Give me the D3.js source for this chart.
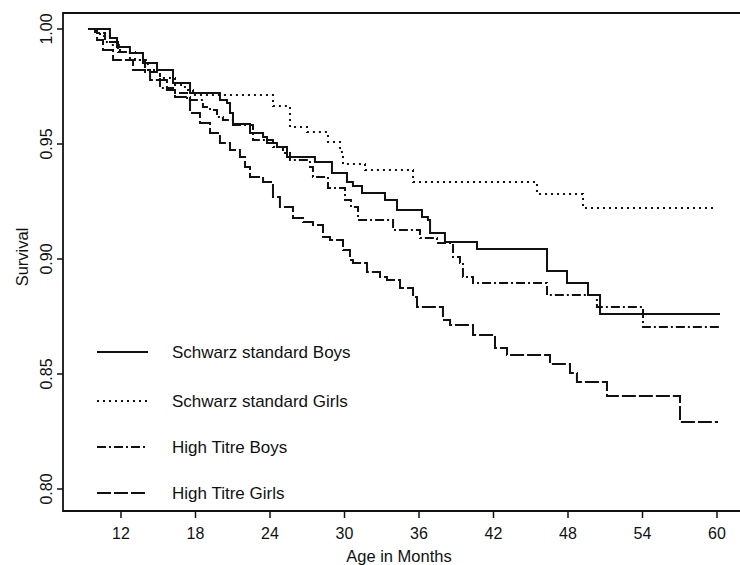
<!DOCTYPE html>
<html>
<head>
<meta charset="utf-8">
<script src="https://cdn.jsdelivr.net/npm/d3@7"></script>
<style>
  body { margin: 0; background: #fff; }
  svg text { font-family: "Liberation Sans", Arial, Helvetica, sans-serif; fill: #111; }
</style>
</head>
<body>
<svg id="chart" width="740" height="565"></svg>
<script>
// step points: [month, survival after the drop]
var ssBoys = [[9.5,1],[11.11,0.9961],[11.68,0.9922],[12.72,0.9896],[13.77,0.9852],[14.9,0.9822],[16.19,0.9765],
  [17.56,0.9722],[19.97,0.9691],[20.54,0.9678],[20.78,0.9635],[21.02,0.9587],[22.39,0.9548],[23.44,0.953],
  [23.76,0.9504],[24.56,0.9487],[25.37,0.9443],[27.62,0.9422],[28.99,0.9374],[30.2,0.9335],[30.68,0.9317],
  [31.41,0.9287],[33.26,0.9257],[34.23,0.9213],[36.24,0.9183],[36.72,0.917],[36.89,0.9113],[38.09,0.9074],
  [40.67,0.9043],[46.31,0.8948],[47.92,0.8896],[49.61,0.8843],[50.58,0.8761],[60.24,0.8761]];

var ssGirls = [[9.66,1],[10.31,0.997],[11.11,0.993],[11.92,0.99],[13.13,0.9865],[14.17,0.9822],[15.14,0.9787],
  [16.35,0.9757],[17.15,0.9735],[17.8,0.9713],[24.24,0.9665],[25.61,0.9574],[26.98,0.9552],[28.67,0.9509],
  [29.64,0.9465],[29.88,0.9413],[31.65,0.9387],[35.52,0.9335],[45.5,0.9283],[49.21,0.9222],[60.0,0.9222]];

var htBoys = [[9.5,1],[9.91,0.9983],[10.71,0.9943],[11.76,0.99],[12.72,0.9865],[13.93,0.9813],[15.14,0.9743],
  [16.19,0.9722],[17.32,0.9691],[18.6,0.9661],[19.17,0.9648],[19.73,0.9617],[20.21,0.9604],[21.02,0.9583],
  [22.63,0.9517],[24.24,0.9487],[25.05,0.9461],[25.61,0.943],[27.22,0.94],[27.46,0.9357],[28.67,0.9309],
  [30.04,0.9257],[30.52,0.9226],[31.09,0.917],[33.91,0.9126],[36.08,0.9091],[37.45,0.907],[38.74,0.9009],
  [39.3,0.8983],[39.54,0.8922],[40.35,0.8896],[46.31,0.8843],[50.33,0.8791],[54.04,0.8704],[60.24,0.8704]];

var htGirls = [[9.34,1],[10.07,0.9952],[10.55,0.9909],[11.36,0.9865],[12.97,0.9822],[14.34,0.9778],[15.7,0.9735],
  [16.35,0.9704],[17.56,0.9635],[18.36,0.9591],[19.17,0.9548],[19.97,0.9504],[20.78,0.9474],[21.58,0.9443],
  [21.99,0.94],[22.39,0.9357],[23.44,0.9335],[24.24,0.927],[24.8,0.9226],[25.85,0.9178],[26.66,0.9161],
  [27.46,0.9148],[28.27,0.9096],[28.83,0.9083],[29.88,0.9039],[30.44,0.8996],[30.68,0.8983],[31.81,0.8943],
  [32.86,0.8922],[33.42,0.8909],[34.47,0.8874],[35.52,0.8835],[35.84,0.8791],[37.93,0.8735],[38.5,0.8713],
  [40.35,0.867],[42.12,0.8613],[43.09,0.8583],[46.55,0.8543],[48.16,0.8504],[48.72,0.8465],[51.14,0.8404],
  [57.02,0.8291],[60.08,0.8291]];

var seriesNames = ["Schwarz standard Boys", "Schwarz standard Girls", "High Titre Boys", "High Titre Girls"];
var seriesData = [ssBoys, ssGirls, htBoys, htGirls];
var seriesDash = [null, "2,4", "9,3,2,3", "14,3"];

var xTicks = [12, 18, 24, 30, 36, 42, 48, 54, 60];
var yTicks = [0.80, 0.85, 0.90, 0.95, 1.00];

var svg = d3.select("#chart");
var frame = {left: 63, top: 13, right: 740, bottom: 511};

var x = d3.scaleLinear().domain([12, 60]).range([121, 717]);
var y = d3.scaleLinear().domain([0.80, 1.00]).range([489, 29]);

// frame: left axis, bottom axis, top border
svg.append("path")
  .attr("d", "M" + frame.right + "," + frame.top + "H" + frame.left + "V" + frame.bottom + "H" + frame.right)
  .attr("fill", "none").attr("stroke", "#111").attr("stroke-width", 1.8);

// x ticks
var xAxis = svg.append("g");
xAxis.selectAll("line").data(xTicks).enter().append("line")
  .attr("x1", d => x(d)).attr("x2", d => x(d))
  .attr("y1", frame.bottom).attr("y2", frame.bottom + 7)
  .attr("stroke", "#111").attr("stroke-width", 1.5);
xAxis.selectAll("text").data(xTicks).enter().append("text")
  .attr("x", d => x(d)).attr("y", frame.bottom + 28)
  .attr("text-anchor", "middle").attr("font-size", 16)
  .text(d => d);

// y ticks
var yAxis = svg.append("g");
yAxis.selectAll("line").data(yTicks).enter().append("line")
  .attr("x1", frame.left - 6).attr("x2", frame.left)
  .attr("y1", d => y(d)).attr("y2", d => y(d))
  .attr("stroke", "#111").attr("stroke-width", 1.5);
yAxis.selectAll("text").data(yTicks).enter().append("text")
  .attr("transform", d => "translate(" + (frame.left - 11) + "," + y(d) + ") rotate(-90)")
  .attr("text-anchor", "middle").attr("font-size", 16)
  .text(d => d3.format(".2f")(d));

// axis titles
svg.append("text")
  .attr("transform", "translate(28,257) rotate(-90)")
  .attr("text-anchor", "middle").attr("font-size", 16.5)
  .text("Survival");
svg.append("text")
  .attr("x", 399).attr("y", 562)
  .attr("text-anchor", "middle").attr("font-size", 16.5)
  .text("Age in Months");

// survival curves
var line = d3.line()
  .x(d => x(d[0]))
  .y(d => y(d[1]))
  .curve(d3.curveStepAfter);

svg.append("g").selectAll("path")
  .data(seriesData).enter().append("path")
  .attr("d", line)
  .attr("fill", "none")
  .attr("stroke", "#111")
  .attr("stroke-width", 2)
  .attr("stroke-dasharray", (d, i) => seriesDash[i]);

// legend
var legendY = [352, 401, 447, 493];
var legend = svg.append("g").selectAll("g")
  .data(seriesNames).enter().append("g")
  .attr("transform", (d, i) => "translate(97," + legendY[i] + ")");
legend.append("line")
  .attr("x1", 0).attr("x2", 51).attr("y1", 0).attr("y2", 0)
  .attr("stroke", "#111").attr("stroke-width", 2)
  .attr("stroke-dasharray", (d, i) => seriesDash[i]);
legend.append("text")
  .attr("x", 75).attr("y", 6)
  .attr("font-size", 17)
  .text(d => d);
</script>
</body>
</html>
